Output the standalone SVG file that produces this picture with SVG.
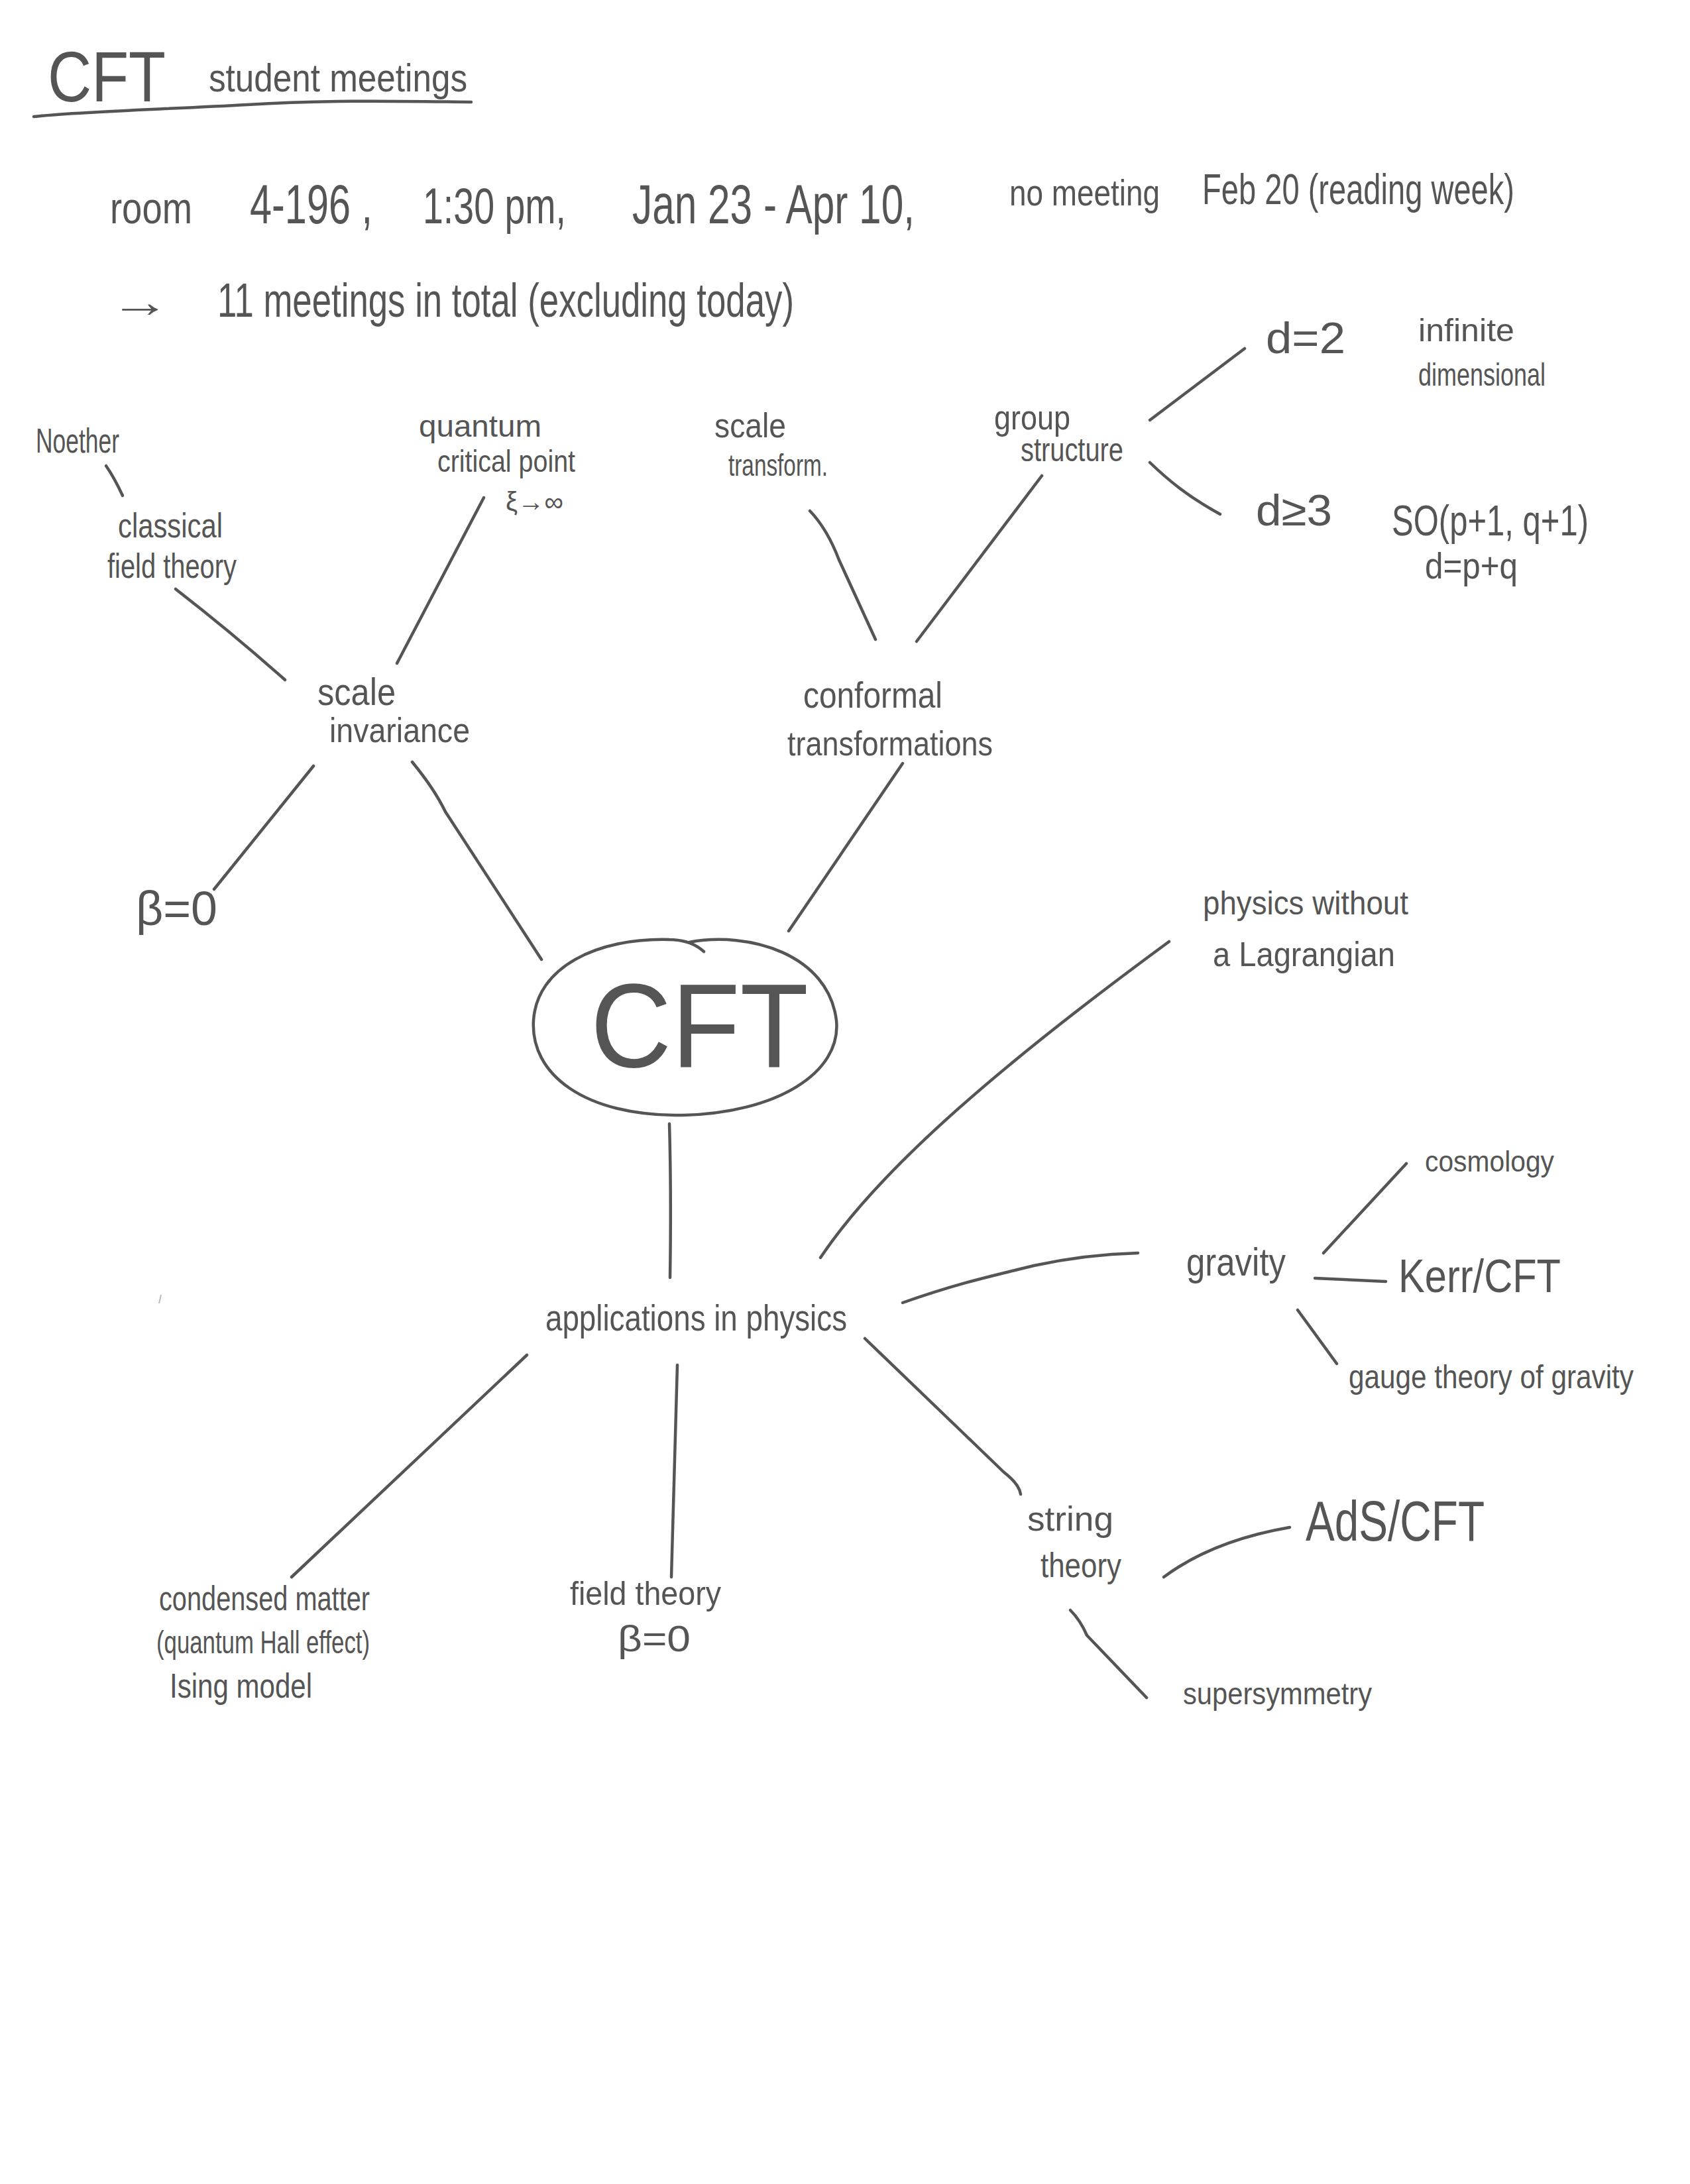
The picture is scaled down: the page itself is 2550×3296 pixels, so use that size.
<svg xmlns="http://www.w3.org/2000/svg" width="2550" height="3296" viewBox="0 0 2550 3296">
<style>
text{font-family:"Liberation Sans","DejaVu Sans",sans-serif;fill:#555555;}
.c{fill:none;stroke:#555555;stroke-width:4.5;stroke-linecap:round;stroke-linejoin:round;}
</style>
<rect width="2550" height="3296" fill="#ffffff"/>
<g id="header">
<text x="72" y="153" font-size="108" textLength="178" lengthAdjust="spacingAndGlyphs">CFT</text>
<text x="315" y="138" font-size="60" textLength="390" lengthAdjust="spacingAndGlyphs">student meetings</text>
<path class="c" d="M51,176 C120,168 250,165 373,158 C500,150 620,153 711,154"/>
<text x="166" y="337" font-size="66" textLength="124" lengthAdjust="spacingAndGlyphs">room</text>
<text x="377" y="337" font-size="84" textLength="185" lengthAdjust="spacingAndGlyphs">4-196 ,</text>
<text x="638" y="337" font-size="76" textLength="216" lengthAdjust="spacingAndGlyphs">1:30 pm,</text>
<text x="954" y="337" font-size="84" textLength="426" lengthAdjust="spacingAndGlyphs">Jan 23 - Apr 10,</text>
<text x="1523" y="310" font-size="56" textLength="227" lengthAdjust="spacingAndGlyphs">no meeting</text>
<text x="1814" y="308" font-size="64" textLength="471" lengthAdjust="spacingAndGlyphs">Feb 20 (reading week)</text>
<text x="166" y="478" font-size="66" textLength="91" lengthAdjust="spacingAndGlyphs">→</text>
<text x="328" y="478" font-size="72" textLength="870" lengthAdjust="spacingAndGlyphs">11 meetings in total (excluding today)</text>
</g>
<g id="connectors">
<path class="c" d="M160,703 Q172,720 185,748"/>
<path class="c" d="M265,889 Q350,955 430,1026"/>
<path class="c" d="M730,751 L599,1001"/>
<path class="c" d="M473,1156 L323,1342"/>
<path class="c" d="M622,1150 Q655,1190 672,1225 L817,1448"/>
<path class="c" d="M1222,771 Q1248,798 1266,845 L1321,965"/>
<path class="c" d="M1572,718 L1383,968"/>
<path class="c" d="M1735,634 L1878,526"/>
<path class="c" d="M1735,698 C1760,722 1790,748 1841,776"/>
<path class="c" d="M1362,1152 L1190,1405"/>
<path class="c" d="M1010,1696 Q1013,1800 1011,1928"/>
<path class="c" d="M1238,1898 C1330,1760 1520,1600 1764,1421"/>
<path class="c" d="M1362,1966 C1450,1935 1500,1925 1560,1910 C1620,1897 1680,1892 1717,1891"/>
<path class="c" d="M1997,1891 L2122,1756"/>
<path class="c" d="M1984,1929 L2091,1934"/>
<path class="c" d="M1958,1977 L2017,2058"/>
<path class="c" d="M1305,2020 L1515,2222 Q1538,2240 1540,2255"/>
<path class="c" d="M1756,2380 Q1830,2325 1946,2305"/>
<path class="c" d="M1615,2430 Q1630,2445 1640,2468 L1730,2562"/>
<path class="c" d="M795,2045 L440,2380"/>
<path class="c" d="M1022,2060 L1013,2380"/>
<path d="M243,1954 L240,1967" fill="none" stroke="#bbbbbb" stroke-width="2"/>
</g>
<g id="noether"><text x="54" y="683" font-size="52" textLength="126" lengthAdjust="spacingAndGlyphs">Noether</text></g>
<g id="classical-field-theory">
<text x="178" y="811" font-size="52" textLength="158" lengthAdjust="spacingAndGlyphs">classical</text>
<text x="162" y="872" font-size="52" textLength="195" lengthAdjust="spacingAndGlyphs">field theory</text>
</g>
<g id="scale-invariance">
<text x="479" y="1064" font-size="58" textLength="118" lengthAdjust="spacingAndGlyphs">scale</text>
<text x="497" y="1120" font-size="52" textLength="212" lengthAdjust="spacingAndGlyphs">invariance</text>
</g>
<g id="quantum-critical-point">
<text x="632" y="659" font-size="46" textLength="185" lengthAdjust="spacingAndGlyphs">quantum</text>
<text x="660" y="712" font-size="46" textLength="208" lengthAdjust="spacingAndGlyphs">critical point</text>
<text x="763" y="771" font-size="40" textLength="87" lengthAdjust="spacingAndGlyphs">ξ→∞</text>
</g>
<g id="beta-zero-top"><text x="205" y="1396" font-size="72" textLength="123" lengthAdjust="spacingAndGlyphs">β=0</text></g>
<g id="scale-transform">
<text x="1078" y="660" font-size="52" textLength="108" lengthAdjust="spacingAndGlyphs">scale</text>
<text x="1099" y="718" font-size="46" textLength="150" lengthAdjust="spacingAndGlyphs">transform.</text>
</g>
<g id="conformal-transformations">
<text x="1212" y="1068" font-size="56" textLength="210" lengthAdjust="spacingAndGlyphs">conformal</text>
<text x="1188" y="1140" font-size="52" textLength="310" lengthAdjust="spacingAndGlyphs">transformations</text>
</g>
<g id="group-structure">
<text x="1500" y="648" font-size="52" textLength="115" lengthAdjust="spacingAndGlyphs">group</text>
<text x="1540" y="696" font-size="50" textLength="155" lengthAdjust="spacingAndGlyphs">structure</text>
</g>
<g id="d2">
<text x="1910" y="533" font-size="66" textLength="120" lengthAdjust="spacingAndGlyphs">d=2</text>
<text x="2140" y="515" font-size="48" textLength="145" lengthAdjust="spacingAndGlyphs">infinite</text>
<text x="2140" y="582" font-size="48" textLength="192" lengthAdjust="spacingAndGlyphs">dimensional</text>
</g>
<g id="d3">
<text x="1895" y="793" font-size="66" textLength="115" lengthAdjust="spacingAndGlyphs">d≥3</text>
<text x="2100" y="808" font-size="64" textLength="297" lengthAdjust="spacingAndGlyphs">SO(p+1, q+1)</text>
<text x="2150" y="873" font-size="56" textLength="140" lengthAdjust="spacingAndGlyphs">d=p+q</text>
</g>
<g id="cft">
<path class="c" d="M1040,1422 C1130,1405 1250,1440 1262,1540 C1270,1620 1170,1680 1030,1683 C880,1685 800,1620 805,1540 C810,1460 900,1415 1010,1418 C1035,1418 1050,1425 1062,1436"/>
<text x="891" y="1610" font-size="180" textLength="329" lengthAdjust="spacingAndGlyphs">CFT</text>
</g>
<g id="applications"><text x="823" y="2008" font-size="56" textLength="455" lengthAdjust="spacingAndGlyphs">applications in physics</text></g>
<g id="physics-without-lagrangian">
<text x="1815" y="1380" font-size="50" textLength="310" lengthAdjust="spacingAndGlyphs">physics without</text>
<text x="1830" y="1458" font-size="52" textLength="275" lengthAdjust="spacingAndGlyphs">a Lagrangian</text>
</g>
<g id="gravity"><text x="1790" y="1925" font-size="60" textLength="150" lengthAdjust="spacingAndGlyphs">gravity</text></g>
<g id="cosmology"><text x="2150" y="1768" font-size="44" textLength="195" lengthAdjust="spacingAndGlyphs">cosmology</text></g>
<g id="kerr-cft"><text x="2110" y="1950" font-size="70" textLength="245" lengthAdjust="spacingAndGlyphs">Kerr/CFT</text></g>
<g id="gauge-theory"><text x="2035" y="2095" font-size="50" textLength="430" lengthAdjust="spacingAndGlyphs">gauge theory of gravity</text></g>
<g id="string-theory">
<text x="1550" y="2310" font-size="52" textLength="130" lengthAdjust="spacingAndGlyphs">string</text>
<text x="1570" y="2380" font-size="52" textLength="122" lengthAdjust="spacingAndGlyphs">theory</text>
</g>
<g id="ads-cft"><text x="1970" y="2325" font-size="86" textLength="270" lengthAdjust="spacingAndGlyphs">AdS/CFT</text></g>
<g id="supersymmetry"><text x="1785" y="2572" font-size="46" textLength="285" lengthAdjust="spacingAndGlyphs">supersymmetry</text></g>
<g id="condensed-matter">
<text x="240" y="2430" font-size="52" textLength="318" lengthAdjust="spacingAndGlyphs">condensed matter</text>
<text x="236" y="2495" font-size="48" textLength="322" lengthAdjust="spacingAndGlyphs">(quantum Hall effect)</text>
<text x="256" y="2562" font-size="52" textLength="215" lengthAdjust="spacingAndGlyphs">Ising model</text>
</g>
<g id="field-theory-bottom">
<text x="860" y="2422" font-size="50" textLength="228" lengthAdjust="spacingAndGlyphs">field theory</text>
<text x="932" y="2492" font-size="56" textLength="110" lengthAdjust="spacingAndGlyphs">β=0</text>
</g>
</svg>
